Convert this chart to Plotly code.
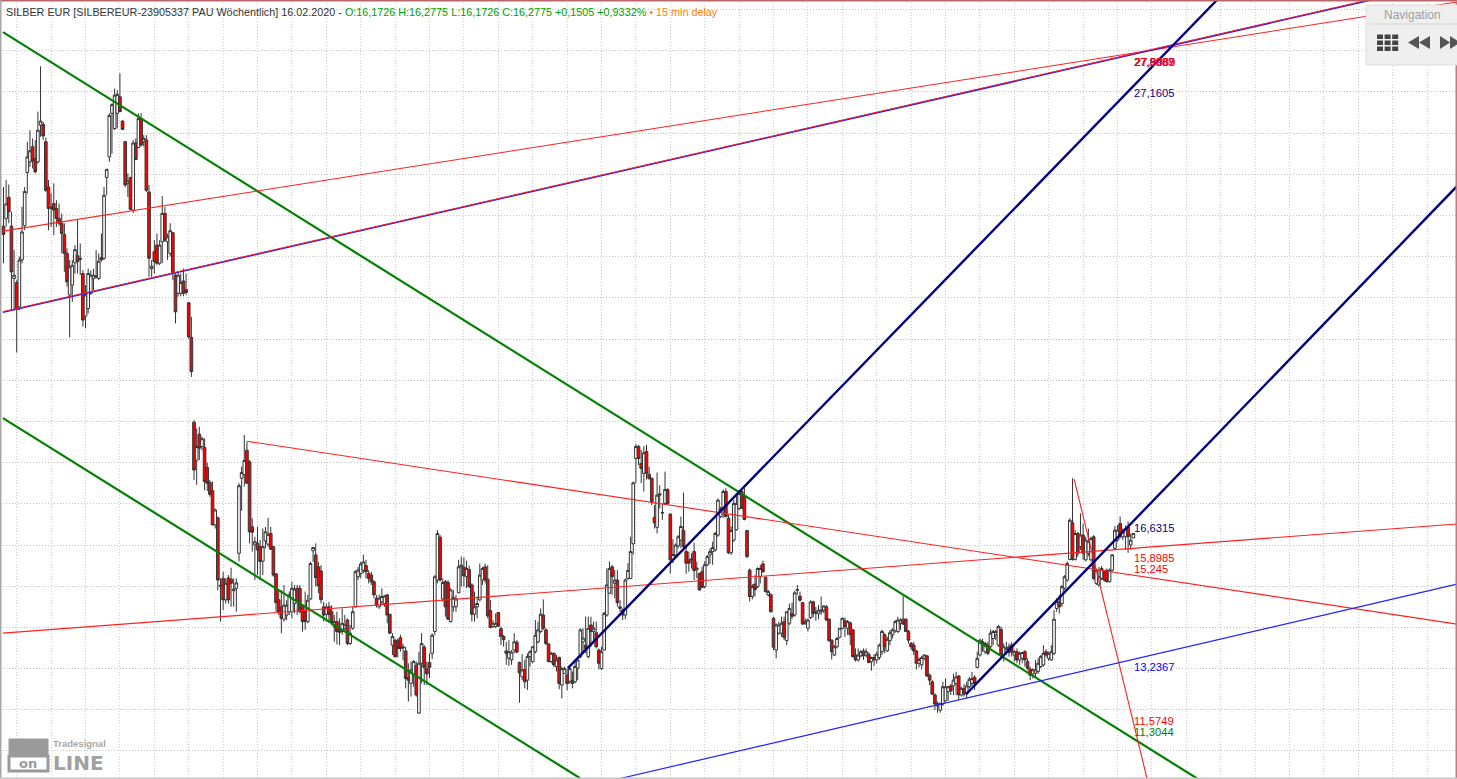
import plotly.graph_objects as go

# Weekly OHLC (EUR per ounce), one block per stretch of the chart
o1 = [23.74,23.92,24.44,23.74,22.47,22.37,21.78,22.92,23.75,25.04,
25.3,25.67,25.38,25.3,26.19,26.21,25.79,24.69,24.17,24.29,
24.17,23.93,23.81,23.54,23.08,22.07,22.31,22.85,23.02,22.96,
22.59,21.56,21.74,22.11,22.47,22.5,22.47,22.98,22.96,24.92,
25.42,26.48,26.11,26.48,26.88,26.29,25.79,24.78,24.92,24.13,
25.76,25.65,26.35,25.79,25.83,24.57,22.71,23.12,23.28,22.84,
23.36,24.05,23.36,23.08,23.58,22.55,22.11,22.11,22.41,22.2,
21.88,21.04]
c1 = [23.54,24.28,24.09,22.63,22.55,21.72,22.92,23.6,24.58,25.42,
25.57,25.32,25.06,26.07,26.29,25.93,24.61,24.17,24.21,24.13,
23.93,23.81,23.56,23.08,22.39,22.75,22.79,23.17,22.88,22.94,
21.46,22.07,22.59,22.55,22.55,22.53,22.89,22.92,24.49,25.12,
26.43,26.69,26.92,26.94,26.52,26.09,24.74,24.84,24.15,25.76,
25.36,26.35,25.71,25.87,24.61,22.96,22.77,22.88,22.84,23.28,
24.05,23.4,23.48,23.63,22.59,21.66,22.55,22.37,22.11,22.13,
21.05,20.21]
h1 = [24.69,24.86,24.75,24.09,23.16,22.43,23.0,24.21,24.69,25.79,
26.07,25.87,25.83,26.52,27.62,26.27,25.89,24.86,24.53,24.78,
24.37,24.29,24.05,23.81,23.2,22.92,22.92,23.28,23.89,23.32,
22.67,22.31,22.71,22.67,22.71,23.16,23.08,23.56,24.69,25.12,
26.48,26.72,27.08,27.04,27.45,26.31,25.8,25.02,24.94,25.83,
25.87,26.48,26.48,25.95,25.95,24.74,22.92,23.4,23.56,23.4,
24.47,24.21,23.56,23.81,23.6,22.59,22.63,22.59,22.71,22.59,
21.9,21.54]
l1 = [22.84,23.73,23.81,21.7,21.7,20.67,21.7,22.84,23.64,24.53,
25.18,25.14,25.02,25.26,25.91,25.83,24.57,23.64,23.72,23.52,
23.72,23.75,23.08,22.63,22.27,21.04,21.9,22.59,22.59,22.55,
21.3,21.26,21.62,22.07,22.19,22.47,22.43,22.88,22.92,24.49,
25.3,25.5,26.07,26.11,26.52,26.07,24.69,24.45,24.13,24.06,
25.34,25.63,25.67,25.67,24.57,22.51,22.51,22.59,22.79,22.79,
22.84,23.36,22.92,23.0,22.43,21.38,22.03,22.04,22.04,22.07,
21.01,20.08]

o2 = [18.98,18.06,18.69,18.39,18.37,17.88,17.52,17.32,16.49,16.66,
15.0,15.19,14.67,15.2,15.17,14.89,14.95,15.8,17.62,17.71,
18.3,18.02,16.44,16.0,16.04,15.96,15.61,16.1,16.02,16.28,
15.96,15.3,14.67,14.49,14.2,14.3,14.38,14.38,14.58,14.95,
14.95,14.5,14.38,14.14,14.69,15.86,15.76,15.47,15.37,14.5,
14.32,14.5,14.38,14.02,14.14,13.98,13.9,13.98,14.18,13.61,
13.98,14.5,15.23,15.31,15.39,15.5,15.31,15.27,15.11,14.71,14.5]
c2 = [17.82,18.39,18.35,18.58,17.54,17.5,17.23,16.49,16.85,15.15,
15.02,14.67,15.07,14.67,15.07,14.93,15.08,17.44,17.76,18.05,
17.5,16.32,16.31,16.08,15.88,15.6,15.96,16.32,16.26,15.9,
15.27,14.6,14.38,14.22,14.54,14.54,14.79,14.95,14.93,14.62,
14.38,14.14,14.14,14.66,15.55,15.94,15.21,15.01,14.67,14.3,
14.49,14.31,14.12,14.14,13.9,13.88,14.1,14.06,13.61,13.86,
14.38,15.35,15.39,15.54,15.59,15.35,15.19,15.11,14.79,14.54,14.71]
h2 = [19.03,18.83,18.87,18.63,18.59,18.0,17.58,17.54,16.89,16.69,
15.19,15.35,15.19,15.27,15.45,15.19,15.19,17.5,17.9,18.67,
18.5,18.06,16.65,16.2,16.44,16.12,16.4,16.44,16.66,16.44,
15.96,15.31,14.9,14.9,15.03,14.66,14.87,15.11,15.03,15.03,
15.03,14.54,14.87,14.79,15.59,15.94,16.04,15.59,15.51,14.62,
14.58,14.62,14.54,14.3,14.38,14.22,14.46,14.3,14.22,14.06,
14.5,15.39,15.47,15.59,15.76,15.64,15.39,15.35,15.15,14.79,14.8]
l2 = [17.58,17.46,18.06,18.3,17.33,17.31,17.17,16.47,16.4,14.9,
14.14,14.42,14.58,14.58,14.5,14.5,14.38,15.6,16.83,17.42,
17.5,16.04,15.84,15.15,15.27,15.15,15.27,15.92,15.96,15.88,
15.23,14.38,14.3,13.86,14.14,14.18,14.3,14.22,14.34,14.3,
14.34,13.9,13.94,14.1,14.66,15.59,14.99,14.83,14.58,14.14,
14.14,14.12,14.06,13.65,13.59,13.57,13.82,13.9,13.57,13.57,
13.94,14.48,15.15,15.19,15.31,15.19,15.07,15.03,14.71,14.48,14.45]

o3 = [14.62,14.58,14.79,14.32,13.57,13.68,13.69,13.75,13.5,13.43,
12.79,12.64,12.85,13.07,11.92,13.13,13.52,13.01,13.15,13.37,
13.9,15.15,16.19,14.69,15.11,15.09,14.14,14.5,14.5,14.84,
15.47,15.46,15.23,15.4,15.03,14.32,14.5,14.67,15.15,15.47,
15.17,14.41,14.02,14.02,14.36,13.97,13.78,13.43,13.25,13.21,
13.45,13.64,13.15,12.8,12.98,12.72,13.29,13.17,13.41,13.65,
13.9,14.3,13.94,13.6,13.17,13.37,13.05,13.27,12.6,12.88,
12.85,12.69,12.71,12.68,13.01]
c3 = [14.75,14.76,14.3,13.86,13.78,13.29,13.49,13.49,13.52,12.76,
12.72,12.97,13.17,12.36,13.13,13.61,13.03,12.87,13.03,13.81,
15.23,16.28,15.15,15.09,14.5,14.2,14.91,14.73,14.69,15.47,
15.51,15.25,15.43,14.99,14.32,14.5,14.58,15.27,15.43,15.15,
14.28,14.0,14.1,14.1,14.03,13.78,13.7,13.37,13.41,13.4,
13.65,13.4,12.9,12.97,12.68,13.29,13.41,13.53,13.81,13.94,
14.32,13.98,13.61,13.17,13.37,13.09,13.21,12.64,13.0,13.0,
12.64,13.0,12.64,13.05,13.21]
h3 = [14.95,14.79,14.81,14.32,13.86,13.73,13.73,13.82,13.6,13.53,
13.13,13.17,13.21,13.17,13.41,13.86,13.57,13.17,13.37,13.86,
15.27,16.36,16.24,15.19,15.15,15.15,14.95,14.91,14.79,15.64,
15.72,15.7,15.62,15.5,15.07,14.87,14.75,15.55,15.47,15.55,
15.51,14.67,14.18,14.34,14.38,14.02,13.82,13.65,13.69,13.45,
13.86,13.69,13.17,13.35,13.21,13.37,13.45,13.53,14.18,14.14,
14.46,14.68,13.98,13.61,13.41,13.39,13.33,13.29,13.05,13.05,
13.0,13.05,12.93,13.17,13.29]
l3 = [14.54,14.5,14.1,13.84,13.33,13.27,13.27,13.41,13.2,12.52,
12.2,12.32,12.56,12.32,11.9,12.64,12.6,12.6,12.77,13.23,
13.81,15.07,15.11,14.63,14.26,14.18,14.12,14.38,14.38,14.83,
14.99,14.99,14.95,14.95,14.14,14.14,14.22,14.63,15.03,15.07,
14.22,13.98,13.98,13.98,14.02,13.57,13.53,13.09,13.06,13.09,
13.37,13.37,12.17,12.72,12.52,12.48,13.05,13.13,13.37,13.61,
13.86,13.94,13.57,13.15,13.13,13.03,12.93,12.5,12.28,12.87,
12.47,12.63,12.52,12.64,12.72]

o4 = [13.29,13.65,13.57,13.29,14.06,13.9,13.87,13.45,13.0,13.45,
14.3,14.83,15.47,15.07,15.15,14.46,14.42,14.3,15.19,15.19,
16.03,18.1,18.39,17.98,17.74,18.27,17.72,17.62,16.67,16.43,
17.21,16.79,17.01,17.34,16.75,15.65,15.76,15.98,16.12,16.35,
15.84,15.64,15.64,15.84,15.4,15.31,15.35,14.99,15.52,15.76,
15.84,15.88,16.24,16.69,16.85,17.3,16.65,15.81,16.12,16.37,
16.89,17.3,17.17,16.35,15.39,14.75,15.05,14.99,15.23,15.54,
15.22,14.79,14.79,14.22,13.45]
c4 = [13.94,13.74,13.49,13.98,13.9,13.98,13.53,13.13,13.41,14.34,
15.03,15.43,15.23,15.15,14.6,14.5,14.3,15.15,15.38,15.84,
17.51,18.39,18.1,17.86,18.24,17.74,17.62,17.05,16.54,17.21,
17.24,16.78,17.35,17.01,15.64,15.77,16.0,16.2,16.45,15.96,
15.56,15.56,15.66,15.38,15.44,14.91,14.97,15.52,15.72,15.84,
15.94,16.28,17.09,16.89,17.3,16.69,15.81,16.35,17.01,17.01,
17.25,16.89,16.62,15.72,14.75,14.99,14.92,15.43,15.43,15.35,
14.87,14.87,14.38,13.52,14.06]
h4 = [13.98,13.98,14.26,14.26,14.26,14.14,14.14,13.49,13.53,14.38,
15.43,15.6,15.52,15.39,15.39,14.66,14.46,15.19,15.56,16.2,
17.54,18.45,18.43,18.31,18.4,18.43,17.9,17.64,16.97,17.76,
17.45,17.01,17.78,17.38,16.77,16.14,16.04,16.24,16.69,17.27,
15.96,15.84,15.8,16.06,15.6,15.33,15.47,15.6,15.76,15.92,
16.08,16.32,17.13,16.93,17.35,17.38,16.73,16.45,17.1,17.25,
17.34,17.38,17.38,16.37,15.43,15.05,15.27,15.46,15.52,15.62,
15.23,14.91,14.83,14.26,14.1]
l4 = [13.25,13.37,13.37,13.25,13.53,13.61,13.49,12.98,12.97,13.44,
14.26,14.81,14.79,14.71,14.5,14.38,14.18,14.2,15.15,15.17,
15.77,17.5,17.94,17.5,17.3,17.59,17.58,16.97,16.4,16.28,
16.89,16.61,16.97,16.97,15.31,15.56,15.72,15.92,15.92,15.92,
15.3,15.35,15.43,15.15,15.2,14.89,14.95,14.95,15.49,15.54,
15.52,15.84,16.2,16.65,16.65,16.67,15.78,15.76,16.08,16.35,
16.85,16.87,16.6,15.68,14.63,14.68,14.75,14.95,15.07,15.33,
14.85,14.75,14.36,13.45,13.25]

o5 = [13.86,13.86,14.14,13.68,14.1,14.33,14.3,14.9,14.76,14.6,
14.1,13.98,14.24,14.62,14.34,14.34,14.38,14.42,14.5,14.2,
13.69,13.33,13.53,13.76,13.98,14.16,13.98,14.11,13.94,13.33,
13.21,13.31,13.43,13.33,13.35,13.17,13.27,13.21,13.27,13.41,
13.82,13.43,13.68,13.82,13.92,13.9,14.1,14.2,14.2,13.9,
13.61,13.57,13.43,13.13,13.09,13.25,13.31,12.84,12.68,12.36,
12.09,11.99,12.14,12.22,12.44,12.58,12.58,12.64,12.82,12.36,
12.52,12.4,12.56,12.64,12.79,13.03]
c5 = [14.06,14.1,13.76,14.38,14.46,14.27,14.84,14.92,14.66,14.08,
14.14,14.18,14.62,14.34,14.38,14.42,14.42,14.52,14.18,13.68,
13.41,13.53,13.73,13.98,14.22,14.02,14.14,13.82,13.29,13.21,
13.33,13.41,13.31,13.41,13.15,13.27,13.21,13.35,13.57,13.9,
13.53,13.71,13.87,13.94,14.14,14.18,14.18,14.08,13.9,13.69,
13.53,13.43,13.13,13.22,13.27,13.33,12.82,12.72,12.38,12.14,
12.14,12.16,12.56,12.56,12.56,12.46,12.72,12.8,12.36,12.52,
12.38,12.58,12.74,12.76,12.64,13.25]
h5 = [14.14,14.26,14.26,14.38,14.58,14.6,14.89,15.03,14.87,14.62,
14.22,14.22,14.66,14.65,14.5,14.54,14.75,14.54,14.54,14.22,
13.71,13.57,13.77,13.98,14.24,14.24,14.18,14.14,13.95,13.49,
13.49,13.45,13.49,13.49,13.39,13.29,13.35,13.41,13.61,13.94,
13.86,13.77,13.94,13.98,14.18,14.26,14.22,14.76,14.22,13.94,
13.65,13.65,13.45,13.27,13.31,13.35,13.33,12.88,12.72,12.4,
12.2,12.16,12.68,12.76,12.58,12.63,12.88,12.92,12.84,12.56,
12.63,12.68,12.8,12.92,12.84,13.41]
l5 = [13.82,13.77,13.69,13.57,14.06,14.2,14.26,14.79,14.62,14.06,
14.06,13.9,14.2,14.24,14.16,14.2,14.3,14.34,14.16,13.65,
13.22,13.31,13.49,13.73,13.95,13.77,13.82,13.57,13.27,13.17,
13.17,13.27,13.21,13.27,13.13,12.95,13.06,13.13,13.21,13.33,
13.37,13.41,13.57,13.73,13.87,13.86,13.94,14.06,13.9,13.61,
13.45,13.33,12.98,13.03,12.98,13.21,12.8,12.6,12.36,11.99,
11.93,11.93,12.09,12.2,12.22,12.36,12.36,12.36,12.24,12.32,
12.32,12.28,12.52,12.58,12.48,13.0]

o6 = [13.33,13.65,13.41,13.57,13.53,13.73,13.82,13.57,13.95,13.33,
13.41,13.53,13.57,13.33,13.41,13.21,13.25,13.41,13.17,12.99,
12.87,12.89,12.93,13.05,13.09,13.41,13.25,13.21,13.37,14.46,
14.62,14.58,14.95,15.15,15.65,16.54,15.65,16.28,15.96,
16.24,15.64,15.8,15.64,16.2,15.07,15.03,15.19,15.35,15.39,
15.11,15.39,15.92,16.12,16.52,16.2,16.2,16.44,16.0,16.17]
c6 = [13.69,13.61,13.61,13.37,13.86,13.9,13.9,14.02,13.33,13.53,
13.49,13.39,13.41,13.41,13.21,13.37,13.39,13.21,13.01,12.84,
12.97,12.97,13.13,13.29,13.37,13.33,13.37,13.41,14.2,14.62,
14.5,14.99,15.23,15.55,16.6,15.65,16.28,15.8,16.24,
15.8,16.12,16.08,16.16,15.19,15.39,15.23,15.43,15.15,15.11,
15.39,15.76,16.36,16.36,16.2,16.36,16.4,16.2,16.12,16.28]
h6 = [13.73,13.73,13.65,13.65,13.95,13.94,13.94,14.06,14.02,13.61,
13.65,13.61,13.65,13.45,13.49,13.41,13.41,13.45,13.25,13.05,
13.01,13.21,13.25,13.33,13.57,13.47,13.41,13.57,14.42,14.71,
14.79,15.03,15.27,15.6,16.65,17.62,16.36,16.32,16.77,
16.52,16.2,16.4,16.2,16.24,15.43,15.47,15.49,15.39,15.43,
15.43,15.78,16.46,16.48,16.69,16.4,16.48,16.57,16.28,16.28]
l6 = [13.29,13.41,13.35,13.33,13.49,13.57,13.69,13.53,13.29,13.17,
13.33,13.29,13.29,13.17,13.13,13.09,13.13,13.05,12.97,12.72,
12.76,12.8,12.87,13.01,13.05,13.29,13.19,13.19,13.33,14.38,
14.34,14.5,14.91,15.11,15.63,15.62,15.62,15.72,15.88,
15.64,15.6,15.73,15.6,15.15,15.03,14.99,15.15,15.11,15.09,
15.09,15.35,15.88,16.08,16.16,16.12,15.88,15.81,15.88,16.17]

opens = o1 + o2 + o3 + o4 + o5 + o6
highs = h1 + h2 + h3 + h4 + h5 + h6
lows = l1 + l2 + l3 + l4 + l5 + l6
closes = c1 + c2 + c3 + c4 + c5 + c6
weeks = list(range(len(opens)))
assert len(opens) == len(highs) == len(lows) == len(closes), (len(opens), len(highs), len(lows), len(closes))

# Trend lines: (first week, last week), (first price, last price), colour, width
trend_lines = [
    ((-0.2, 451.4), (28.45, 10.32), "#008000", 2.2),
    ((-0.2, 217.9), (19.08, 10.34), "#008000", 2.2),
    ((-0.2, 549.3), (23.62, 29.18), "#ff2020", 1.1),
    ((-0.2, 516.1), (21.65, 29.22), "#2020ff", 1.6),
    ((-0.2, 516.1), (21.665, 29.235), "#ff2020", 1.0),
    ((-0.2, 549.3), (13.86, 16.51), "#ff2020", 1.1),
    ((92.0, 549.3), (18.52, 14.08), "#ff2020", 1.1),
    ((404.6, 432.2), (17.6, 10.32), "#ff2020", 1.1),
    ((232.2, 549.3), (10.32, 15.05), "#2020ff", 1.2),
    ((213.3, 458.6), (13.01, 29.23), "#000080", 2.4),
    ((363.8, 549.3), (12.38, 24.71), "#000080", 2.4),
]

# Price labels at the right end of the data: text, price, colour, vertical nudge, sideways nudge
label_week = 426.5
price_labels = [
    ("27,8987", 27.9, "#0000ff", -7, 0),
    ("27,9089", 27.9, "#ff0000", -7, 0),
    ("27,9089", 27.9, "#ff0000", -7, 0.6),
    ("27,1605", 27.1605, "#000080", -7.6, 0),
    ("16,6315", 16.6315, "#000080", -9, 0),
    ("15,8985", 15.8985, "#ff0000", -9, 0),
    ("15,245", 15.245, "#ff0000", 7, 0),
    ("13,2367", 13.2367, "#0000ff", -8.5, 0),
    ("11,5749", 11.5749, "#ff0000", 6, 0),
    ("11,3044", 11.3044, "#008000", 6, 0),
]

title_main = "SILBER EUR [SILBEREUR-23905337 PAU Wöchentlich] 16.02.2020 - "
title_quote = "O:16,1726 H:16,2775 L:16,1726 C:16,2775 +0,1505 +0,9332%"
title_delay = " • 15 min delay"

W, H = 1457, 779
FONT = "Liberation Sans"


def px(x):
    return x / W


def py(y):
    return 1 - y / H


fig = go.Figure()
fig.add_trace(go.Candlestick(
    x=weeks, open=opens, high=highs, low=lows, close=closes,
    increasing=dict(line=dict(color="#333333", width=1), fillcolor="#ffffff"),
    decreasing=dict(line=dict(color="#333333", width=1), fillcolor="#ff0000"),
    whiskerwidth=0, showlegend=False,
))
for xs, ys, color, width in trend_lines:
    fig.add_trace(go.Scatter(x=list(xs), y=list(ys), mode="lines", showlegend=False,
                             line=dict(color=color, width=width)))

annotations = [dict(
    xref="paper", yref="paper", x=px(4), y=py(12), xanchor="left", yanchor="middle",
    showarrow=False, align="left", font=dict(family=FONT, size=10.8, color="#333333"),
    text=f'{title_main}<span style="color:#00a000">{title_quote}</span>'
         f'<span style="color:#ff8000">{title_delay}</span>',
)]
for text, price, color, nudge, side in price_labels:
    annotations.append(dict(
        x=label_week, y=price, yshift=nudge, xshift=side, xanchor="left", yanchor="middle", showarrow=False,
        text=text, font=dict(family=FONT, size=11.2, color=color),
    ))


def rect(x0, y0, x1, y1, fill, line=None, w=0):
    return dict(type="rect", xref="paper", yref="paper", x0=px(x0), x1=px(x1), y0=py(y0), y1=py(y1),
                fillcolor=fill, line=dict(color=line or fill, width=w), layer="above")


def path(points, fill):
    d = "M " + " L ".join(f"{px(a):.5f},{py(b):.5f}" for a, b in points) + " Z"
    return dict(type="path", xref="paper", yref="paper", path=d, fillcolor=fill,
                line=dict(width=0), layer="above")


shapes = [
    rect(0, 0, W, 1.5, "#b8686c"),
    rect(0, 0, 1.5, H, "#a8a8a8"),
    rect(W - 1.5, 0, W, H, "#c8787a"),
    rect(0, H - 1.5, W, H, "#c8c8c8"),
    # Navigation panel
    rect(1366, 5, W + 4, 65, "#efefef", "#dddddd", 1),
    rect(1370, 23.5, W, 24.5, "#d4d4d4"),
]
for row in range(3):
    for col in range(3):
        shapes.append(rect(1377 + col * 7.6, 34.5 + row * 6, 1383 + col * 7.6, 39 + row * 6, "#444444"))
for x0 in (1408, 1419):
    shapes.append(path([(x0, 42.5), (x0 + 11, 36), (x0 + 11, 49)], "#555555"))
for x0 in (1440, 1450):
    shapes.append(path([(x0 + 10, 42.5), (x0, 36), (x0, 49)], "#555555"))
# Watermark block
shapes.append(dict(type="rect", xref="paper", yref="paper", x0=px(9), x1=px(48), y0=py(739), y1=py(756),
                   fillcolor="#9a9a9a", line=dict(color="#9a9a9a", width=1), layer="above"))
shapes.append(dict(type="rect", xref="paper", yref="paper", x0=px(9), x1=px(48), y0=py(756), y1=py(771),
                   fillcolor="#ffffff", line=dict(color="#9a9a9a", width=3), layer="above"))

annotations += [
    dict(xref="paper", yref="paper", x=px(1412), y=py(15), showarrow=False, xanchor="center", yanchor="middle",
         text="Navigation", font=dict(family=FONT, size=12, color="#a0a0a0")),
    dict(xref="paper", yref="paper", x=px(28), y=py(763), showarrow=False, xanchor="center", yanchor="middle",
         text="<b>on</b>", font=dict(family="DejaVu Sans", size=13, color="#9a9a9a")),
    dict(xref="paper", yref="paper", x=px(51), y=py(743.5), showarrow=False, xanchor="left", yanchor="middle",
         text="<b>Tradesignal</b>", font=dict(family=FONT, size=9.5, color="#a8a8a8")),
    dict(xref="paper", yref="paper", x=px(51), y=py(763), showarrow=False, xanchor="left", yanchor="middle",
         text="<b>LINE</b>", font=dict(family="DejaVu Sans", size=20, color="#a0a0a0")),
]

grid = dict(showticklabels=False, ticks="", zeroline=False, showline=False, showgrid=True,
            gridwidth=1, griddash="1px,2px")
fig.update_layout(
    width=W, height=H, margin=dict(l=0, r=0, t=0, b=0),
    paper_bgcolor="#ffffff", plot_bgcolor="#ffffff", showlegend=False,
    boxgap=0, boxgroupgap=0,
    xaxis=dict(range=[-1.32, 549.3], tick0=5, dtick=13, gridcolor="#c8cde0",
               rangeslider=dict(visible=False), **grid),
    yaxis=dict(range=[10.32, 29.23], tick0=0, dtick=1, gridcolor="#c4c4c4", **grid),
    shapes=shapes, annotations=annotations,
)

fig.write_html("out.html", config={"displayModeBar": False},
               post_script="document.body.style.margin='0';")
